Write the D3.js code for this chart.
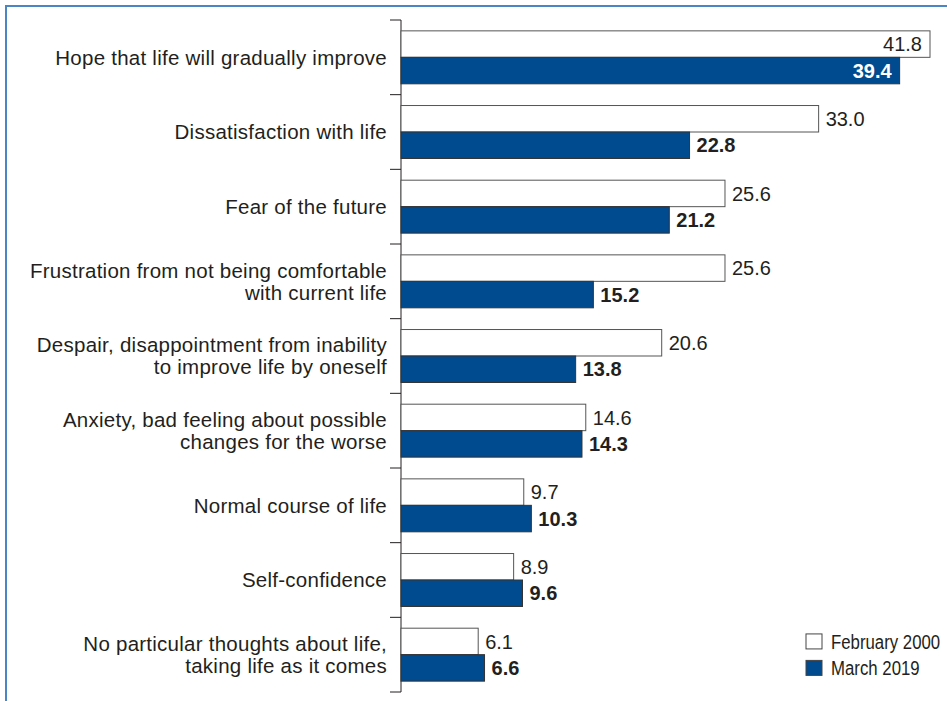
<!DOCTYPE html>
<meta charset="utf-8">
<script src="https://d3js.org/d3.v7.min.js"></script>
<style>
  body { margin: 0; background: #fff; }
  svg { display: block; }
  text { font-family: "Liberation Sans", Arial, Helvetica, sans-serif; fill: #231f20; }
</style>
<body>
<div id="chart"></div>
<script>

  // categories, top to bottom (\n = line break in label)
  var categories = [
    "Hope that life will gradually improve",
    "Dissatisfaction with life",
    "Fear of the future",
    "Frustration from not being comfortable\nwith current life",
    "Despair, disappointment from inability\nto improve life by oneself",
    "Anxiety, bad feeling about possible\nchanges for the worse",
    "Normal course of life",
    "Self-confidence",
    "No particular thoughts about life,\ntaking life as it comes"
  ];
  var series = ["February 2000", "March 2019"];
  var feb2000 = [41.8, 33.0, 25.6, 25.6, 20.6, 14.6, 9.7, 8.9, 6.1];
  var mar2019 = [39.4, 22.8, 21.2, 15.2, 13.8, 14.3, 10.3, 9.6, 6.6];

  var W = 947, H = 701;
  var blue = "#004a8f";

  var svg = d3.select("#chart").append("svg")
    .attr("width", W)
    .attr("height", H);

  // blue frame (top + left)
  svg.append("path")
    .attr("d", "M6," + H + "V6H" + W)
    .attr("fill", "none")
    .attr("stroke", "#4a86c5")
    .attr("stroke-width", 2);

  var y = d3.scaleBand()
    .domain(categories)
    .range([20, 692]);

  var ySub = d3.scaleBand()
    .domain(series)
    .range([0, y.bandwidth()])
    .paddingInner(0)
    .paddingOuter(0.41);

  var x = d3.scaleLinear()
    .domain([0, 41.8])
    .range([401, 930]);

  var rows = categories.map(function(c, i) {
    return {cat: c, vals: [
      {s: series[0], v: feb2000[i]},
      {s: series[1], v: mar2019[i]}
    ]};
  });

  // vertical axis, ticks at the category boundaries
  var gAxis = svg.append("g")
    .attr("transform", "translate(" + x(0) + ",0)");
  gAxis.append("line")
    .attr("y1", y.range()[0]).attr("y2", y.range()[1])
    .attr("stroke", "#231f20");
  gAxis.selectAll(".bound")
    .data(d3.range(categories.length + 1))
    .enter().append("line")
      .attr("x1", -11).attr("x2", 0)
      .attr("y1", function(i) { return y.range()[0] + i * y.step(); })
      .attr("y2", function(i) { return y.range()[0] + i * y.step(); })
      .attr("stroke", "#231f20");

  // category labels
  svg.selectAll(".catlabel")
    .data(rows)
    .enter().append("text")
      .attr("class", "catlabel")
      .attr("text-anchor", "end")
      .attr("font-size", 20.5)
      .style("letter-spacing", "0.25px")
      .each(function(d) {
        var lines = d.cat.split("\n");
        var cy = y(d.cat) + y.bandwidth() / 2;
        var lh = 22;
        var t = d3.select(this);
        lines.forEach(function(l, j) {
          t.append("tspan")
            .attr("x", 387)
            .attr("y", cy + (j - (lines.length - 1) / 2) * lh)
            .attr("dy", "0.35em")
            .text(l);
        });
      });

  var groups = svg.selectAll(".row")
    .data(rows)
    .enter().append("g")
      .attr("transform", function(d) { return "translate(0," + y(d.cat) + ")"; });

  groups.selectAll("rect")
    .data(function(d) { return d.vals; })
    .enter().append("rect")
      .attr("x", x(0))
      .attr("y", function(d) { return ySub(d.s); })
      .attr("width", function(d) { return x(d.v) - x(0); })
      .attr("height", ySub.bandwidth())
      .attr("fill", function(d) { return d.s === series[0] ? "#fff" : blue; })
      .attr("stroke", function(d) { return d.s === series[0] ? "#555" : "#333"; })
      .attr("stroke-width", 1);

  // value labels: inside the bar when it reaches the edge
  groups.selectAll(".val")
    .data(function(d) { return d.vals; })
    .enter().append("text")
      .attr("font-size", 20)
      .attr("font-weight", function(d) { return d.s === series[1] ? "bold" : "normal"; })
      .attr("y", function(d) { return ySub(d.s) + ySub.bandwidth() / 2; })
      .attr("dy", "0.36em")
      .each(function(d) {
        var inside = d.v > 35;
        d3.select(this)
          .attr("x", inside ? x(d.v) - 8 : x(d.v) + 7)
          .attr("text-anchor", inside ? "end" : "start")
          .style("fill", inside && d.s === series[1] ? "#fff" : "#231f20");
      })
      .text(function(d) { return d3.format(".1f")(d.v); });

  // legend, rows level with the last category's bars
  var lastBand = y(categories[categories.length - 1]);
  var legend = svg.append("g")
    .selectAll("g")
    .data(series)
    .enter().append("g")
      .attr("transform", function(d) {
        return "translate(806," + (lastBand + ySub(d) + ySub.bandwidth() / 2) + ")";
      });
  legend.append("rect")
    .attr("y", -7.5)
    .attr("width", 16).attr("height", 15)
    .attr("fill", function(d, i) { return i ? blue : "#fff"; })
    .attr("stroke", "#444");
  legend.append("text")
    .attr("transform", "translate(25,0) scale(0.8,1)")
    .attr("dy", "0.36em")
    .attr("font-size", 21)
    .text(function(d) { return d; });

</script>
</body>
